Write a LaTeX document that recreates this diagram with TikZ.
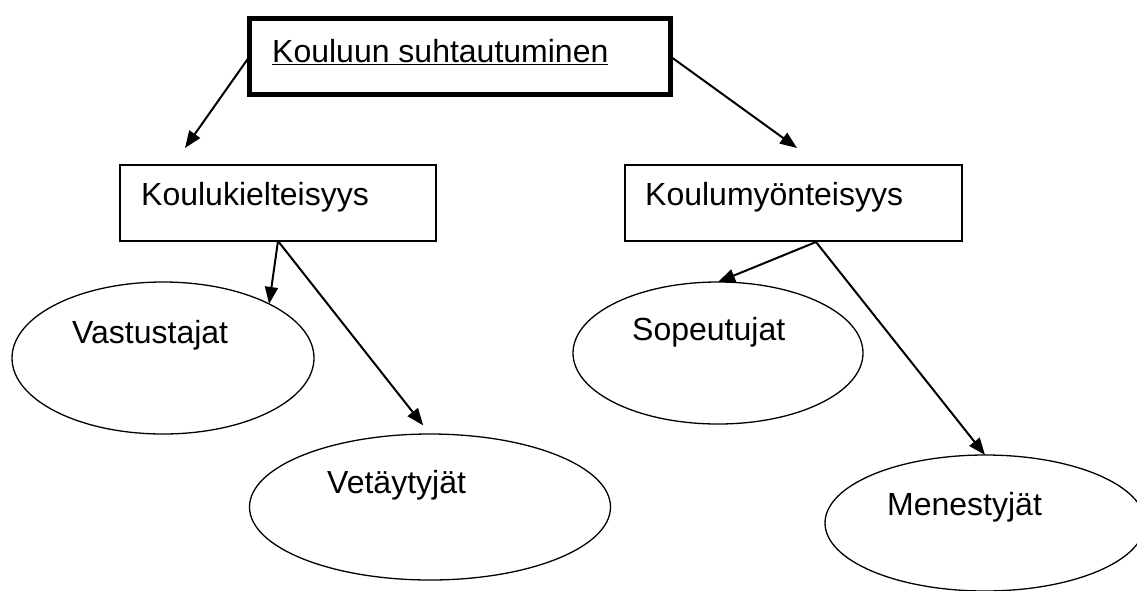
\documentclass[tikz,border=0pt]{standalone}
\usepackage{fontspec}
\setmainfont{Liberation Sans}
\usetikzlibrary{arrows.meta,shapes.geometric}

\begin{document}
\begin{tikzpicture}[x=1pt,y=-1pt,
  box/.style={draw,rectangle,line width=2pt,anchor=north west,inner sep=0pt,outer sep=0pt},
  oval/.style={draw,ellipse,line width=1.3pt,inner sep=0pt,outer sep=0pt},
  txt/.style={anchor=base west,inner sep=0pt,font=\fontsize{32}{38}\selectfont},
  arr/.style={line width=2pt,-{Triangle[length=17pt,width=13pt]}}]
\useasboundingbox (0,0) rectangle (1137,590);
\clip (0,0) rectangle (1137,590);
% boxes
\node[box,line width=5pt,minimum width=421pt,minimum height=76pt] (top) at (249.5,18.5) {};
\node[box,minimum width=316pt,minimum height=76pt] (kiel) at (120,165) {};
\node[box,minimum width=337pt,minimum height=76pt] (myon) at (625,165) {};
% ovals
\node[oval,minimum width=302pt,minimum height=152pt] (vast) at (163,358) {};
\node[oval,minimum width=361pt,minimum height=146pt] (vet) at (430,507) {};
\node[oval,minimum width=290pt,minimum height=142pt] (sop) at (718,353) {};
\node[oval,minimum width=320pt,minimum height=136pt] (men) at (985,523) {};
% texts
\node[txt] (toptxt) at (272,62) {\underline{Kouluun suhtautuminen}};
\node[txt] (kieltxt) at (141,205) {Koulukielteisyys};
\node[txt] (myontxt) at (645,205) {Koulumyönteisyys};
\node[txt] (vasttxt) at (72,343) {Vastustajat};
\node[txt] (vettxt) at (327,493) {Vetäytyjät};
\node[txt] (soptxt) at (632,340) {Sopeutujat};
\node[txt] (mentxt) at (887,515) {Menestyjät};
% arrows
\coordinate (kielin) at (185,148);
\coordinate (myonin) at (797,148);
\coordinate (myonout) at (816,242);
\draw[arr] (top.west) -- (kielin);
\draw[arr] (top.east) -- (myonin);
\draw[arr] (kiel.south) -- (vast.27);
\draw[arr,shorten >=11pt] (kiel.south) -- (vet.north);
\draw[arr] (myonout) -- (sop.north);
\draw[arr] (myonout) -- (men.north);
\end{tikzpicture}
\end{document}
